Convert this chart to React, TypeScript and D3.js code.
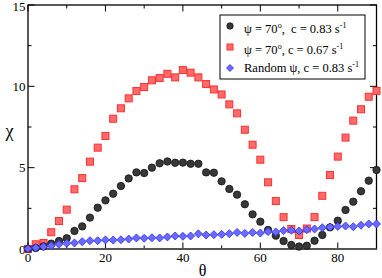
import React from "react";
import * as d3 from "d3";

const theta: number[] = [0,2,4,6,8,10,12,14,16,18,20,22,24,26,28,30,32,34,36,38,40,42,44,46,48,50,52,54,56,58,60,62,64,66,68,70,72,74,76,78,80,82,84,86,88,90];

const chiPsi70c083: number[] = [0,0.06,0.16,0.33,0.49,0.66,1.11,1.39,1.93,2.54,2.99,3.4,3.87,4.34,4.71,4.67,5.0,5.27,5.38,5.3,5.31,5.24,5.24,4.71,4.69,4.16,3.69,3.34,2.75,2.13,1.68,1.17,0.82,0.49,0.25,0.15,0.2,0.51,0.86,1.33,1.74,2.4,2.91,3.55,4.2,4.86];

const chiPsi70c067: number[] = [0,0.29,0.37,1.03,1.72,2.42,3.67,4.36,5.37,6.23,6.95,8.01,8.65,9.26,9.71,9.96,10.37,10.51,10.77,10.55,11.0,10.84,10.55,10.14,9.81,9.5,8.89,8.34,7.33,6.41,5.49,4.1,2.95,1.96,1.23,0.86,1.26,1.96,3.27,4.55,5.68,6.85,7.89,8.59,9.36,9.72];

const chiRandom: number[] = [0.02,0.08,0.14,0.2,0.29,0.35,0.37,0.45,0.51,0.51,0.56,0.55,0.57,0.61,0.68,0.66,0.69,0.68,0.74,0.8,0.78,0.8,0.93,0.86,0.88,0.9,0.94,1.02,0.96,1.02,0.98,1.07,1.05,1.13,1.15,1.11,1.19,1.23,1.31,1.35,1.39,1.41,1.37,1.46,1.54,1.54];

const xTicksMajor: number[] = [0,20,40,60,80];
const xTicksMinor: number[] = [10,30,50,70,90];
const yTicksMajor: number[] = [0,5,10,15];
const yTicksMinor: number[] = [2.5,7.5,12.5];

const W = 382, H = 278;
const L = 28, R = 376.5, T = 5, B = 249;
const FONT = "Liberation Serif";

export default function App() {
  const x = d3.scaleLinear().domain([0, 90]).range([L, R]);
  const y = d3.scaleLinear().domain([0, 15]).range([B, T]);
  const diamond = (cx: number, cy: number, r: number) =>
    `M${cx},${cy - r}L${cx + r},${cy}L${cx},${cy + r}L${cx - r},${cy}Z`;
  const maj = 6.5, mn = 3.5;

  return (
    <svg width={W} height={H} style={{ position: "absolute", left: 0, top: 0, background: "#fff" }}>
      {xTicksMajor.map(t => (
        <g key={"xm" + t}>
          <line x1={x(t)} x2={x(t)} y1={B} y2={B - maj} stroke="#000" strokeWidth={1} />
          <line x1={x(t)} x2={x(t)} y1={T} y2={T + maj} stroke="#000" strokeWidth={1} />
          <text x={x(t)} y={262} fontSize={13} fontFamily={FONT} textAnchor="middle">{t}</text>
        </g>
      ))}
      {xTicksMinor.map(t => (
        <g key={"xn" + t}>
          <line x1={x(t)} x2={x(t)} y1={B} y2={B - mn} stroke="#000" strokeWidth={1} />
          <line x1={x(t)} x2={x(t)} y1={T} y2={T + mn} stroke="#000" strokeWidth={1} />
        </g>
      ))}
      {yTicksMajor.map(t => (
        <g key={"ym" + t}>
          <line x1={L} x2={L + maj} y1={y(t)} y2={y(t)} stroke="#000" strokeWidth={1} />
          <line x1={R} x2={R - maj} y1={y(t)} y2={y(t)} stroke="#000" strokeWidth={1} />
          <text x={25.5} y={Math.max(y(t) + 4.5, 11)} fontSize={13} fontFamily={FONT} textAnchor="end">{t}</text>
        </g>
      ))}
      {yTicksMinor.map(t => (
        <g key={"yn" + t}>
          <line x1={L} x2={L + mn} y1={y(t)} y2={y(t)} stroke="#000" strokeWidth={1} />
          <line x1={R} x2={R - mn} y1={y(t)} y2={y(t)} stroke="#000" strokeWidth={1} />
        </g>
      ))}
      <rect x={L} y={T} width={R - L} height={B - T} fill="none" stroke="#000" strokeWidth={1.3} />
      <line x1={L} x2={R} y1={B} y2={B} stroke="#555" strokeWidth={2} />

      {theta.map((t, i) => (
        <rect key={"s" + i} x={x(t) - 3.5} y={y(chiPsi70c067[i]) - 3.5} width={7} height={7}
          fill="#ff6a6a" stroke="#ff3030" strokeWidth={1} />
      ))}
      {theta.map((t, i) => (
        <circle key={"c" + i} cx={x(t)} cy={y(chiPsi70c083[i])} r={3.7}
          fill="#383838" stroke="#111" strokeWidth={0.8} />
      ))}
      {theta.map((t, i) => (
        <path key={"d" + i} d={diamond(x(t), y(chiRandom[i]), 4)}
          fill="#6a6aff" stroke="#2b2bff" strokeWidth={0.8} />
      ))}

      <text x={9.5} y={137} fontSize={18} fontFamily={FONT} textAnchor="middle">χ</text>
      <text x={202.5} y={276} fontSize={16} fontFamily={FONT} textAnchor="middle">θ</text>

      <rect x={220} y={15} width={145} height={64} fill="#fff" stroke="#000" strokeWidth={1} />
      <circle cx={230} cy={26} r={3.2} fill="#383838" stroke="#111" strokeWidth={0.8} />
      <rect x={227} y={44} width={6} height={6} fill="#ff6a6a" stroke="#ff3030" strokeWidth={1} />
      <path d={diamond(230, 68, 3.5)} fill="#6a6aff" stroke="#2b2bff" strokeWidth={0.8} />
      <text x={244} y={33} fontSize={12.5} fontFamily={FONT} style={{ whiteSpace: "pre" }}>
        ψ = 70<tspan dy={-5} fontSize={8}>o</tspan><tspan dy={5}>{",  c = 0.83 s"}</tspan><tspan dy={-5} fontSize={8}>-1</tspan>
      </text>
      <text x={244} y={54} fontSize={12.5} fontFamily={FONT} style={{ whiteSpace: "pre" }}>
        ψ = 70<tspan dy={-5} fontSize={8}>o</tspan><tspan dy={5}>{", c = 0.67 s"}</tspan><tspan dy={-5} fontSize={8}>-1</tspan>
      </text>
      <text x={244} y={72} fontSize={12.5} fontFamily={FONT} style={{ whiteSpace: "pre" }}>
        Random ψ, c = 0.83 s<tspan dy={-5} fontSize={8}>-1</tspan>
      </text>
    </svg>
  );
}
